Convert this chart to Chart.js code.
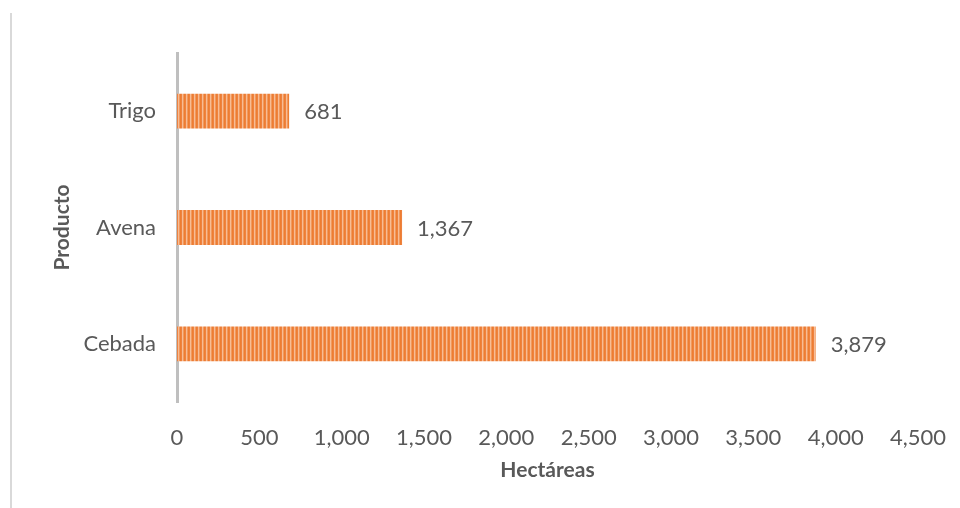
<!DOCTYPE html>
<html>
<head>
<meta charset="utf-8">
<script src="https://cdn.jsdelivr.net/npm/chart.js@4"></script>
<style>
  html, body { margin: 0; padding: 0; background: #ffffff; }
  #wrap { width: 960px; height: 508px; position: relative; }
</style>
</head>
<body>
<div id="wrap"><canvas id="c" width="960" height="508"></canvas></div>
<script>
const categories = ['Trigo', 'Avena', 'Cebada'];
const hectareas = [681, 1367, 3879];
const xTicks = [0, 500, 1000, 1500, 2000, 2500, 3000, 3500, 4000, 4500];
const xTitle = 'Hectáreas';
const yTitle = 'Producto';

const FONT = 'Lato, "Open Sans", sans-serif';
const TEXT = '#595959';

function makePattern() {
  const p = document.createElement('canvas');
  p.width = 4; p.height = 4;
  const g = p.getContext('2d');
  const cols = ['#ED7D31', '#EE8240', '#F7BC94', '#F1995E'];
  cols.forEach((c, i) => { g.fillStyle = c; g.fillRect(i, 0, 1, 4); });
  return document.getElementById('c').getContext('2d').createPattern(p, 'repeat');
}

const fmt = new Intl.NumberFormat('en-US');

const frameLine = {
  id: 'frameLine',
  beforeDraw(chart) {
    const ctx = chart.ctx;
    ctx.save();
    ctx.strokeStyle = '#d9d9d9';
    ctx.lineWidth = 2;
    ctx.beginPath();
    ctx.moveTo(11, 13);
    ctx.lineTo(11, 508);
    ctx.stroke();
    ctx.restore();
  }
};

const valueLabels = {
  id: 'valueLabels',
  afterDatasetsDraw(chart) {
    const ctx = chart.ctx;
    const meta = chart.getDatasetMeta(0);
    ctx.save();
    ctx.font = '22px ' + FONT;
    ctx.fillStyle = TEXT;
    ctx.textAlign = 'left';
    ctx.textBaseline = 'middle';
    meta.data.forEach((bar, i) => {
      const v = chart.data.datasets[0].data[i];
      ctx.fillText(fmt.format(v), bar.x + 15, bar.y + 1);
    });
    ctx.restore();
  }
};

new Chart(document.getElementById('c'), {
  type: 'bar',
  data: {
    labels: categories,
    datasets: [{
      data: hectareas,
      backgroundColor: makePattern(),
      borderWidth: 0,
      categoryPercentage: 0.6,
      barPercentage: 0.5
    }]
  },
  options: {
    indexAxis: 'y',
    responsive: false,
    animation: false,
    layout: { padding: { top: 53, right: 42, left: 0, bottom: 0 } },
    plugins: { legend: { display: false }, tooltip: { enabled: false } },
    scales: {
      x: {
        min: 0, max: 4500,
        afterBuildTicks(scale) { scale.ticks = xTicks.map(v => ({ value: v })); },
        afterFit(scale) { scale.height = 106; scale.paddingLeft = 0; scale.paddingRight = 0; },
        grid: { display: false, drawTicks: false },
        border: { display: false },
        ticks: {
          padding: 23,
          color: TEXT,
          font: { family: FONT, size: 22 },
          callback: v => fmt.format(v),
          maxRotation: 0, autoSkip: false
        },
        title: {
          display: true, text: xTitle, color: TEXT,
          font: { family: FONT, size: 21, weight: 'bold' },
          padding: { top: 0, bottom: 25 }
        }
      },
      y: {
        afterFit(scale) { scale.width = 177; },
        grid: { display: false, drawTicks: false },
        border: { display: true, color: '#bfbfbf', width: 3 },
        ticks: {
          padding: 21,
          color: TEXT,
          font: { family: FONT, size: 22 }
        },
        title: {
          display: true, text: yTitle, color: TEXT,
          font: { family: FONT, size: 21, weight: 'bold' },
          padding: { top: 50, bottom: 0 }
        }
      }
    }
  },
  plugins: [frameLine, valueLabels]
});
</script>
</body>
</html>
